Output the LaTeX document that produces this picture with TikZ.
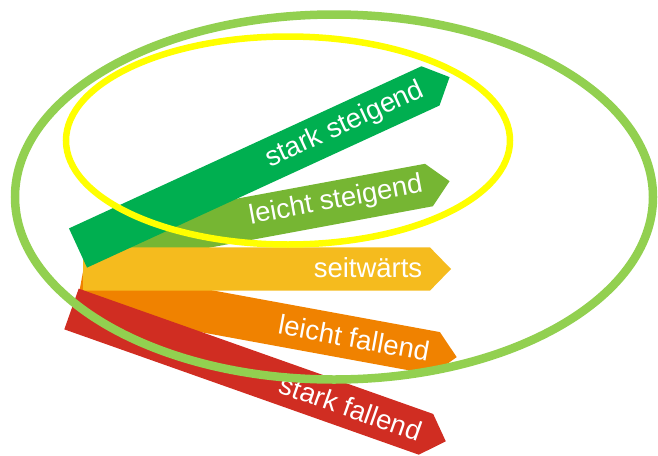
\documentclass[tikz,border=0pt]{standalone}
\usepackage{fontspec}
\newfontfamily\arialfont{Liberation Sans}
\definecolor{cdg}{HTML}{00AF50}
\definecolor{clg}{HTML}{76B633}
\definecolor{cye}{HTML}{F5BB1E}
\definecolor{cor}{HTML}{F08200}
\definecolor{cre}{HTML}{D02D22}
\definecolor{cel}{HTML}{92D050}
\definecolor{cyel}{HTML}{FFFF00}
\tikzset{
  lbl/.style={text=white, font=\arialfont\fontsize{27.5}{31}\selectfont, inner sep=0pt},
  ringg/.style={draw=cel, line width=8.5pt},
  ringy/.style={draw=cyel, line width=6.5pt}
}
\newcommand{\arrowshape}[2]{\fill[#1] (0,-21.6) -- (#2,-21.6) -- ({#2+21},0) -- (#2,21.6) -- (0,21.6) -- cycle;}
\begin{document}
\begin{tikzpicture}[x=1pt,y=-1pt]
\useasboundingbox (0,0) rectangle (658,455);
% light green
\begin{scope}[shift={(84.8,248.8)},rotate=10.5]
\arrowshape{clg}{350}
\end{scope}
% orange
\begin{scope}[shift={(80,288)},rotate=-10.4]
\arrowshape{cor}{362}
\end{scope}
% yellow
\begin{scope}[shift={(83,269)}]
\arrowshape{cye}{347}
\end{scope}
% red
\begin{scope}[shift={(71.5,309)},rotate=-19.47]
\arrowshape{cre}{376}
\end{scope}
% dark green
\begin{scope}[shift={(78,248)},rotate=24.7]
\arrowshape{cdg}{388}
\end{scope}
% labels
\node[lbl, rotate=24.7] (t1) at (345,125) {stark steigend};
\node[lbl, rotate=10.5] (t2) at (336,201) {leicht steigend};
\node[lbl] (t3) at (368,268) {seitwärts};
\node[lbl, rotate=-10.4] (t4) at (354,338) {leicht fallend};
\node[lbl, rotate=-19.47] (t5) at (351,408) {stark fallend};
% ellipses
\draw[ringy] (288,140.5) ellipse [x radius=222, y radius=104];
\draw[ringg] (334,197) ellipse [x radius=319, y radius=182.5];
\end{tikzpicture}
\end{document}
